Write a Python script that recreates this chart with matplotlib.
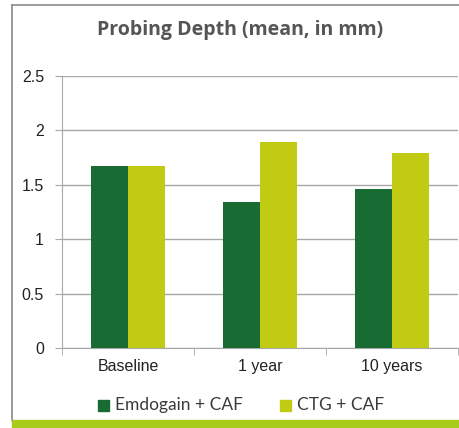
import matplotlib
matplotlib.use("Agg")
import numpy as np
import matplotlib.pyplot as plt
from matplotlib.patches import Rectangle
from matplotlib.lines import Line2D

categories = ["Baseline", "1 year", "10 years"]
emdogain_caf = [1.67, 1.34, 1.46]
ctg_caf = [1.67, 1.89, 1.79]
series_names = ["Emdogain + CAF", "CTG + CAF"]
y_ticks = [0, 0.5, 1, 1.5, 2, 2.5]

dark = "#176b33"
light = "#c2cb14"

W, H = 459, 428
fig = plt.figure(figsize=(W / 100, H / 100), dpi=100)

# axes placement in pixels
left, right, top, bottom = 62, 458, 76, 348
ax = fig.add_axes([left / W, 1 - bottom / H, (right - left) / W, (bottom - top) / H])

x = np.arange(len(categories))
bw = 0.28
ax.bar(x - bw / 2, emdogain_caf, bw, color=dark, zorder=3)
ax.bar(x + bw / 2, ctg_caf, bw, color=light, zorder=3)

ax.set_xlim(-0.5, len(categories) - 0.5)
ax.set_ylim(0, 2.5)
ax.set_yticks(y_ticks)
ax.set_yticklabels([f"{t:g}" for t in y_ticks], fontsize=11.5, family="Liberation Sans", color="#222222")
ax.yaxis.grid(True, color="#a8a8a8", linewidth=1)
ax.tick_params(axis="y", length=5, color="#a8a8a8", pad=8)

ax.set_xticks(x)
ax.set_xticklabels(categories, fontsize=11.5, family="Liberation Sans", color="#222222")
ax.tick_params(axis="x", length=0, pad=8)
# boundary ticks between categories
ax.set_xticks(np.arange(-0.5, len(categories)), minor=True)
ax.tick_params(axis="x", which="minor", length=5, color="#a8a8a8")

for s in ["top", "right"]:
    ax.spines[s].set_visible(False)
for s in ["left", "bottom"]:
    ax.spines[s].set_color("#a8a8a8")

# outer frame lines (top and left) and green band at bottom
fig.add_artist(Line2D([12 / W, 1], [1 - 5 / H, 1 - 5 / H], color="#8a8a8a", linewidth=1.2))
fig.add_artist(Line2D([12 / W, 12 / W], [1 - 5 / H, 1 - 420 / H], color="#8a8a8a", linewidth=1.2))
fig.add_artist(Rectangle((12 / W, 0), 1 - 12 / W, 8 / H, color="#a7cc1a", transform=fig.transFigure))

fig.text(240 / W, 1 - 30 / H, "Probing Depth (mean, in mm)", ha="center", va="center",
         fontsize=14, fontweight="bold", color="#555555", family="Open Sans")

# legend
leg_y = 1 - 405 / H
for px, name, col in [(98, series_names[0], dark), (280, series_names[1], light)]:
    fig.add_artist(Rectangle((px / W, leg_y - 5.5 / H), 11 / W, 11 / H, color=col, transform=fig.transFigure))
    fig.text((px + 17) / W, leg_y, name, ha="left", va="center", fontsize=12.5,
             color="#3a3a3a", family="Lato")

fig.savefig("out.png", dpi=100)
